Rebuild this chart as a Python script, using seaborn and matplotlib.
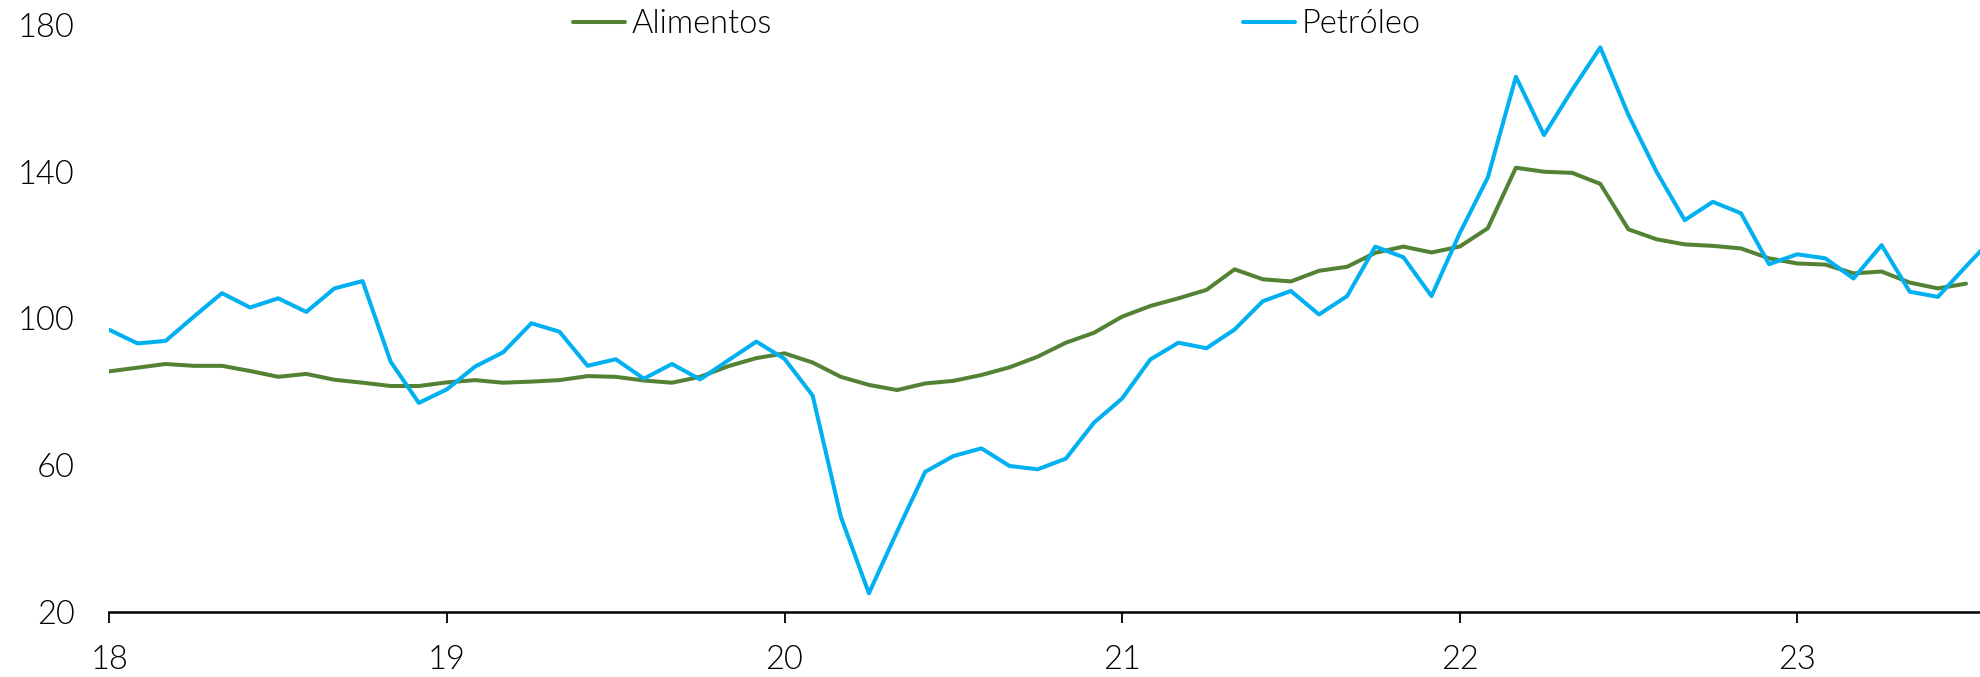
import numpy as np
import pandas as pd
import matplotlib
matplotlib.use("Agg")
import matplotlib.pyplot as plt
import seaborn as sns
from matplotlib.lines import Line2D

# ---- data (monthly, Jan 2018 onward) ----
alimentos = [85.6, 86.6, 87.6, 87.1, 87.1, 85.7, 84.1, 84.9, 83.3, 82.5, 81.6, 81.6,
             82.6, 83.2, 82.5, 82.8, 83.2, 84.3, 84.1, 83.1, 82.5, 84.1, 87.0, 89.2,
             90.5, 88.0, 84.1, 81.9, 80.5, 82.3, 83.0, 84.6, 86.7, 89.6, 93.4, 96.1,
             100.5, 103.4, 105.5, 107.8, 113.4, 110.7, 110.1, 113.0, 114.1, 117.9, 119.6, 118.0,
             119.6, 124.6, 141.1, 140.0, 139.7, 136.7, 124.3, 121.6, 120.2, 119.8, 119.1, 116.4,
             115.0, 114.7, 112.3, 112.8, 109.8, 108.2, 109.5]
petroleo = [96.9, 93.2, 93.9, 100.5, 106.9, 103.0, 105.5, 101.8, 108.2, 110.2, 88.2, 77.0,
            80.7, 86.9, 90.8, 98.7, 96.4, 87.1, 88.9, 83.6, 87.6, 83.4, 88.6, 93.7,
            89.0, 79.0, 46.0, 25.1, 41.9, 58.2, 62.5, 64.6, 59.8, 58.9, 61.8, 71.6,
            78.2, 88.8, 93.4, 91.9, 97.0, 104.7, 107.5, 101.1, 106.1, 119.6, 116.7, 106.1,
            123.2, 138.4, 165.9, 150.0, 162.3, 173.9, 155.5, 140.0, 126.8, 131.8, 128.7, 114.8,
            117.5, 116.4, 110.9, 120.0, 107.3, 105.9, 114.2, 122.3]
series_names = ["Alimentos", "Petróleo"]
series_colors = ["#548235", "#00B0F0"]
year_ticks = [0, 12, 24, 36, 48, 60]
year_labels = ["18", "19", "20", "21", "22", "23"]
y_ticks = [20, 60, 100, 140, 180]

df = pd.concat([
    pd.DataFrame({"mes": np.arange(len(alimentos)), "valor": alimentos, "serie": series_names[0]}),
    pd.DataFrame({"mes": np.arange(len(petroleo)), "valor": petroleo, "serie": series_names[1]}),
], ignore_index=True)

sns.set_theme(style="white")
plt.rcParams["font.family"] = ["Lato", "DejaVu Sans"]

W, H = 1980, 677
fig = plt.figure(figsize=(W / 100, H / 100), dpi=100)
left_px, bottom_px, top_px = 109.4, 612, 25
ax = fig.add_axes([left_px / W, 1 - bottom_px / H, 1 - left_px / W, (bottom_px - top_px) / H])

sns.lineplot(data=df, x="mes", y="valor", hue="serie", palette=series_colors,
             hue_order=series_names, linewidth=2.9, ax=ax, legend=False)

ax.set_xlim(0, (W - left_px) / 28.13)
ax.set_ylim(20, 180)
ax.set_xticks(year_ticks)
ax.set_xticklabels(year_labels)
ax.set_yticks(y_ticks)
ax.set_yticklabels([str(v) for v in y_ticks])
ax.set_xlabel("")
ax.set_ylabel("")

for s in ["top", "right", "left"]:
    ax.spines[s].set_visible(False)
ax.spines["bottom"].set_color("black")
ax.spines["bottom"].set_linewidth(1.8)

fs = 23.5
txt_col = "#000000"
ax.tick_params(axis="x", direction="out", length=8, width=1.3, color="black",
               pad=16, labelsize=fs, labelcolor=txt_col, bottom=True)
ax.tick_params(axis="y", length=0, pad=25, labelsize=fs, labelcolor=txt_col, left=False)
for lab in ax.get_xticklabels() + ax.get_yticklabels():
    lab.set_fontweight(300)

# legend: two entries placed separately
ly = 1 - 24 / H
handles = [Line2D([], [], color=c, linewidth=2.9) for c in series_colors]
anchors = [573 / W, 1243 / W]
for h, name, xa in zip(handles, series_names, anchors):
    leg = fig.legend([h], [name], loc="center left", bbox_to_anchor=(xa, ly),
                     frameon=False, borderpad=0, borderaxespad=0,
                     handlelength=1.6, handletextpad=0.2,
                     prop={"size": fs, "weight": 300})
    for t in leg.get_texts():
        t.set_color(txt_col)

fig.savefig("out.png", dpi=100)
